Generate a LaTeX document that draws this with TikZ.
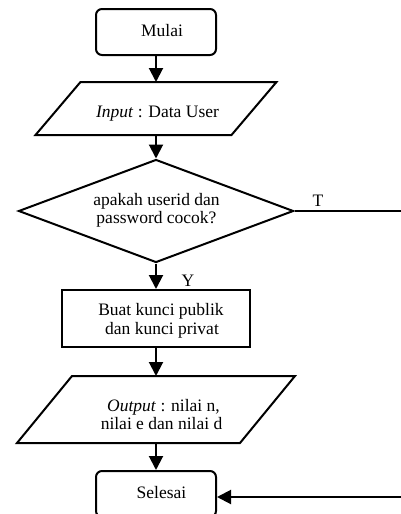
\documentclass[tikz,border=0pt]{standalone}
\usepackage{fontspec}
\setmainfont{Liberation Serif}
\usetikzlibrary{shapes.geometric,arrows.meta}
\begin{document}
\begin{tikzpicture}[x=1pt,y=1pt,
  line width=2pt,
  txt/.style={anchor=base,inner sep=0pt,font=\fontsize{17.5}{19}\selectfont},
  term/.style={draw,rounded corners=6pt,minimum width=120pt,minimum height=46pt,inner sep=0pt},
  procbox/.style={draw,minimum width=188pt,minimum height=57pt,inner sep=0pt},
  iobox/.style={inner sep=0pt,outer sep=0pt},
  decision/.style={draw,diamond,minimum width=275pt,minimum height=103pt,inner sep=0pt},
  flow/.style={-{Triangle[length=14pt,width=14pt]}},
]
\useasboundingbox (0,0) rectangle (401,-514);
% shapes
\node[term] (mulai) at (156,-32) {};
\node[iobox,minimum width=241pt,minimum height=53pt] (input) at (156,-108.5) {};
\draw ([xshift=45pt]input.north west) -- (input.north east) -- ([xshift=-45pt]input.south east) -- (input.south west) -- cycle;
\node[decision] (dec) at (156,-211) {};
\node[procbox] (proc) at (156,-318.5) {};
\node[iobox,minimum width=278pt,minimum height=67pt] (out) at (156,-409.5) {};
\draw ([xshift=55pt]out.north west) -- (out.north east) -- ([xshift=-55pt]out.south east) -- (out.south west) -- cycle;
\node[term] (sel) at (156,-494) {};
% texts
\node[txt] (tmulai) at (162,-36) {Mulai};
\node[txt] (tinput) at (157.5,-117) {\textit{Input} : Data User};
\node[txt] (tdec1) at (156.5,-205) {apakah userid dan};
\node[txt] (tdec2) at (156.5,-223) {password cocok?};
\node[txt] (tproc1) at (161,-315) {Buat kunci publik};
\node[txt] (tproc2) at (162,-334) {dan kunci privat};
\node[txt] (tout1) at (163.5,-411) {\textit{Output} : nilai n,};
\node[txt] (tout2) at (161.5,-429) {nilai e dan nilai d};
\node[txt] (tsel) at (161.5,-498) {Selesai};
\node[txt] (lT) at (318,-206) {T};
\node[txt] (lY) at (188,-286) {Y};
% connectors
\coordinate (tend) at (403,-211);
\coordinate (rstart) at (403,-497);
\draw[flow] (mulai.south) -- (mulai.south |- input.north);
\draw[flow] (input.south) -- (dec.north);
\draw[flow] (dec.south) -- (proc.north);
\draw[flow] (proc.south) -- (proc.south |- out.north);
\draw[flow] (out.south) -- (sel.north);
\draw (dec.east) -- (tend);
\draw[flow] (rstart) -- (rstart -| sel.east);
\end{tikzpicture}
\end{document}
